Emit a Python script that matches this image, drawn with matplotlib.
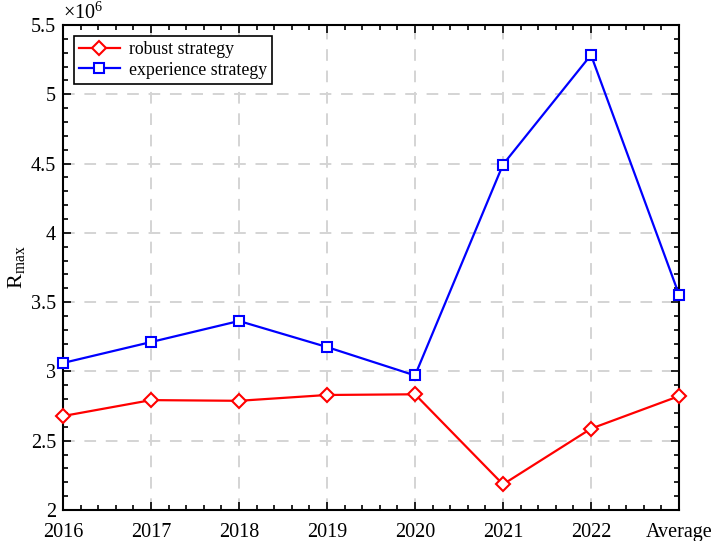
import matplotlib.pyplot as plt
from matplotlib.ticker import MultipleLocator, FuncFormatter

plt.rcParams['font.family'] = ['Liberation Serif', 'DejaVu Serif']
plt.rcParams['mathtext.fontset'] = 'custom'
plt.rcParams['mathtext.rm'] = 'Liberation Serif'
plt.rcParams['mathtext.it'] = 'Liberation Serif:italic'

# data (units of 1e6)
years = ['2016', '2017', '2018', '2019', '2020', '2021', '2022', 'Average']
robust = [2.678, 2.793, 2.788, 2.830, 2.835, 2.185, 2.587, 2.822]
experience = [3.061, 3.212, 3.364, 3.176, 2.971, 4.493, 5.284, 3.555]

fig = plt.figure(figsize=(7.13, 5.41), dpi=100)
ax = fig.add_axes([0.0884, 0.0573, 0.8639, 0.8965])

x = list(range(len(years)))
ax.plot(x, robust, color='red', lw=1.6, marker='D', markersize=7,
        markerfacecolor='white', markeredgewidth=1.5, label='robust strategy',
        clip_on=False, zorder=3)
ax.plot(x, experience, color='blue', lw=1.6, marker='s', markersize=6.5,
        markerfacecolor='white', markeredgewidth=1.5, label='experience strategy',
        clip_on=False, zorder=3)

ax.set_xlim(0, 7)
ax.set_ylim(2, 5.5)
ax.set_xticks(x)
ax.set_xticklabels(years)
ax.xaxis.set_minor_locator(MultipleLocator(0.2))
ax.yaxis.set_major_locator(MultipleLocator(0.5))
ax.yaxis.set_minor_locator(MultipleLocator(0.1))
ax.yaxis.set_major_formatter(FuncFormatter(lambda v, p: '%g' % v))

ax.tick_params(which='both', direction='in', top=True, right=True,
               labelsize=14.5, width=1.2, colors='black')
ax.tick_params(which='major', length=6)
ax.tick_params(which='minor', length=3.5)
ax.tick_params(axis='x', which='major', pad=9)
ax.tick_params(axis='y', which='major', pad=5)
for s in ax.spines.values():
    s.set_linewidth(1.5)

ax.grid(True, which='major', color='#d4d4d4', linestyle=(0, (6, 5)), lw=1.4)
ax.set_axisbelow(True)

ax.set_ylabel(r'$\mathrm{R_{max}}$', fontsize=16, labelpad=3)
ax.text(0.0, 1.003, r'$\times10^{6}$', transform=ax.transAxes, fontsize=14.5,
        ha='left', va='bottom')

leg = ax.legend(loc='upper left', fontsize=12.8, frameon=True, fancybox=False,
                edgecolor='black', framealpha=1, borderpad=0.3,
                handlelength=2.3, borderaxespad=0.6, labelspacing=0.2,
                handletextpad=0.5)
leg.get_frame().set_linewidth(1.2)

fig.savefig('out.png', dpi=100)
